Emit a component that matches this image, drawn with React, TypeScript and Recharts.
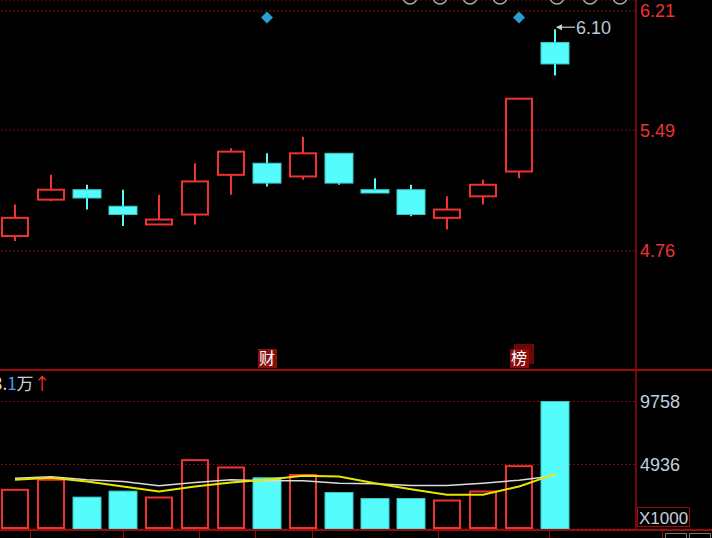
import React from "react";
import { ComposedChart, Bar, Line, Scatter, XAxis, YAxis, CartesianGrid } from "recharts";

// daily K-line, 16 sessions
const days = ["d1", "d2", "d3", "d4", "d5", "d6", "d7", "d8", "d9", "d10", "d11", "d12", "d13", "d14", "d15", "d16"];
const opens = [4.85, 5.07, 5.13, 5.03, 4.92, 4.98, 5.22, 5.29, 5.21, 5.35, 5.13, 5.13, 4.96, 5.09, 5.24, 6.02];
const closes = [4.96, 5.13, 5.08, 4.98, 4.95, 5.18, 5.36, 5.17, 5.35, 5.17, 5.11, 4.98, 5.01, 5.16, 5.68, 5.89];
const highs = [5.04, 5.22, 5.16, 5.13, 5.1, 5.29, 5.38, 5.35, 5.45, 5.35, 5.2, 5.16, 5.09, 5.19, 5.68, 6.1];
const lows = [4.82, 5.06, 5.01, 4.91, 4.92, 4.92, 5.1, 5.15, 5.19, 5.16, 5.11, 4.97, 4.89, 5.04, 5.2, 5.82];
const volumes = [3000, 3770, 2440, 2900, 2410, 5270, 4710, 3920, 4130, 2790, 2330, 2330, 2180, 2870, 4810, 9758];
const ma5 = [3770, 3920, 3640, 3250, 2870, 3250, 3560, 3770, 4070, 4020, 3510, 3050, 2620, 2620, 3250, 4200];
const ma10 = [3880, 4000, 3770, 3640, 3310, 3560, 3770, 3690, 3690, 3510, 3460, 3330, 3330, 3510, 3740, 4070];
const events = ["", "", "", "", "", "", "", "财", "", "", "", "", "", "", "榜", ""];
const marks = [null, null, null, null, null, null, null, 6.17, null, null, null, null, null, null, 6.17, null];

const priceTicks = [4.76, 5.49, 6.21];
const volTicks = [4936, 9758];

const RED = "#f03232";
const CYAN = "#54fcfc";
const DARKRED = "#9a0a0a";
const GRIDRED = "#b80c0c";
const FONT = "'Liberation Sans', Arial, sans-serif";
const CJK = "'Noto Sans CJK SC', sans-serif";

const maxHigh = Math.max(...highs);

const data = days.map((day, i) => ({
  day,
  range: [lows[i], highs[i]],
  open: opens[i],
  close: closes[i],
  high: highs[i],
  low: lows[i],
  vol: volumes[i],
  ma5: ma5[i],
  ma10: ma10[i],
  event: events[i],
  mark: marks[i],
}));

const Candle = (props: any) => {
  const { x, y, width, height, payload } = props;
  const { open, close, high, low, event } = payload;
  const up = close >= open;
  const color = up ? RED : CYAN;
  const k = height / (high - low || 1);
  const top = y + (high - Math.max(open, close)) * k;
  const bot = Math.max(y + (high - Math.min(open, close)) * k, top + 1);
  const cx = x + width / 2;
  return (
    <g>
      <line x1={cx} x2={cx} y1={y} y2={top} stroke={color} strokeWidth={2} />
      <line x1={cx} x2={cx} y1={bot} y2={y + height} stroke={color} strokeWidth={2} />
      {up ? (
        <rect x={x + 1} y={top} width={width - 2} height={bot - top} fill="none" stroke={color} strokeWidth={2} />
      ) : (
        <rect x={x} y={top} width={width} height={bot - top} fill={color} stroke="#3cc8c8" strokeWidth={1} />
      )}
      {high === maxHigh && (
        <g>
          <line x1={cx + 2} x2={cx + 20} y1={y - 2} y2={y - 2} stroke="#c8d2dc" strokeWidth={1.2} />
          <polygon points={`${cx + 1},${y - 2} ${cx + 7},${y - 5} ${cx + 7},${y + 1}`} fill="#c8d2dc" />
          <text x={cx + 21} y={y - 2} dy="0.36em" fill="#b9c8d8" fontSize={18} fontFamily={FONT}>
            {high.toFixed(2)}
          </text>
        </g>
      )}
      {event === "榜" && <rect x={cx - 5} y={344} width={20} height={20} fill="#6e0808" />}
      {event && (
        <g>
          <rect x={cx - 9} y={349} width={19} height={19} fill="#8a0c0c" />
          <text x={cx} y={358} dy="0.36em" textAnchor="middle" fill="#fff" fontSize={16} fontFamily={CJK}>
            {event}
          </text>
        </g>
      )}
    </g>
  );
};

const VolBar = (props: any) => {
  const { x, y, width, height, payload } = props;
  const up = payload.close >= payload.open;
  return up ? (
    <rect x={x + 1} y={y} width={width - 2} height={height - 1} fill="none" stroke={RED} strokeWidth={2} />
  ) : (
    <rect x={x} y={y} width={width} height={height} fill={CYAN} stroke="#3cc8c8" strokeWidth={1} />
  );
};

const Diamond = (props: any) => {
  const { cx, cy, payload } = props;
  if (payload == null || payload.mark == null || !isFinite(cy)) return <g />;
  return <polygon points={`${cx},${cy - 6} ${cx + 6},${cy} ${cx},${cy + 6} ${cx - 6},${cy}`} fill="#2a9fd2" />;
};

const separators = [30, 123, 199, 255, 312, 438, 549, 662];
const icons = [410, 440, 470, 500, 557, 590, 620];

export default function App() {
  return (
    <div style={{ position: "relative", width: 712, height: 538, background: "#000", overflow: "hidden", fontFamily: FONT }}>
      <style>{"body{margin:0;background:#000}"}</style>

      {/* price panel */}
      <div style={{ position: "absolute", left: -3, top: 0 }}>
        <ComposedChart width={715} height={370} data={data} margin={{ top: 0, right: 0, bottom: 0, left: 0 }}>
          <CartesianGrid horizontal vertical={false} stroke={GRIDRED} strokeWidth={1} strokeDasharray="1.5 2.5" />
          <XAxis dataKey="day" hide padding={{ left: 0, right: 63 }} />
          <YAxis
            orientation="right"
            width={76}
            domain={[4.0405, 6.2765]}
            ticks={priceTicks}
            tickFormatter={(v: number) => v.toFixed(2)}
            axisLine={{ stroke: DARKRED, strokeWidth: 1.5 }}
            tickLine={false}
            tickSize={2}
            tickMargin={2}
            tick={{ fill: RED, fontSize: 18, fontFamily: FONT }}
            allowDataOverflow
          />
          <Bar dataKey="range" barSize={28} shape={Candle} isAnimationActive={false} />
          <Scatter dataKey="mark" shape={Diamond} isAnimationActive={false} />
        </ComposedChart>
      </div>

      <div style={{ position: "absolute", left: 0, top: 369, width: 712, height: 2, background: DARKRED }} />

      {/* volume panel */}
      <div style={{ position: "absolute", left: -3, top: 370 }}>
        <ComposedChart width={715} height={168} data={data} margin={{ top: 0, right: 0, bottom: 9, left: 0 }}>
          <CartesianGrid horizontal vertical={false} stroke={GRIDRED} strokeWidth={1} strokeDasharray="1.5 2.5" />
          <XAxis dataKey="day" hide padding={{ left: 0, right: 63 }} />
          <YAxis
            orientation="right"
            width={76}
            domain={[0, 12170]}
            ticks={volTicks}
            axisLine={{ stroke: DARKRED, strokeWidth: 1.5 }}
            tickLine={false}
            tickSize={2}
            tickMargin={2}
            tick={{ fill: "#c5cfdb", fontSize: 18, fontFamily: FONT }}
            allowDataOverflow
          />
          <Bar dataKey="vol" barSize={28} shape={VolBar} isAnimationActive={false} />
          <Line dataKey="ma10" type="linear" stroke="#dcdcdc" strokeWidth={1.5} dot={false} isAnimationActive={false} />
          <Line dataKey="ma5" type="linear" stroke="#e6e600" strokeWidth={2} dot={false} isAnimationActive={false} />
        </ComposedChart>
      </div>

      <div style={{ position: "absolute", left: -7, top: 373, fontSize: 17, fontFamily: CJK, lineHeight: "20px", whiteSpace: "nowrap" }}>
        <span style={{ color: "#e0e0d0" }}>3.</span>
        <span style={{ color: "#3f9fff" }}>1</span>
        <span style={{ color: "#cfcfcf" }}>万</span>
        <span style={{ color: "#ff3030" }}>↑</span>
      </div>

      <div
        style={{
          position: "absolute",
          left: 637,
          top: 507,
          width: 53,
          height: 20,
          border: `1px solid ${DARKRED}`,
          color: "#c5cfdb",
          fontSize: 17,
          lineHeight: "21px",
          paddingLeft: 1,
          boxSizing: "border-box",
        }}
      >
        X1000
      </div>

      {/* bottom tab strip */}
      <div style={{ position: "absolute", left: 0, top: 529, width: 712, height: 2, background: DARKRED }} />
      {separators.map((sx) => (
        <div key={sx} style={{ position: "absolute", left: sx, top: 531, width: 1, height: 7, background: DARKRED }} />
      ))}
      <div style={{ position: "absolute", left: 665, top: 533, width: 20, height: 8, border: "1px solid #777" }} />
      <div style={{ position: "absolute", left: 689, top: 533, width: 20, height: 8, border: "1px solid #777" }} />

      {/* clipped toolbar icons */}
      <svg style={{ position: "absolute", left: 0, top: 0 }} width={712} height={6}>
        {icons.map((ix) => (
          <circle key={ix} cx={ix} cy={-3} r={7} fill="none" stroke="#aaa" strokeWidth={1.5} />
        ))}
      </svg>
    </div>
  );
}
